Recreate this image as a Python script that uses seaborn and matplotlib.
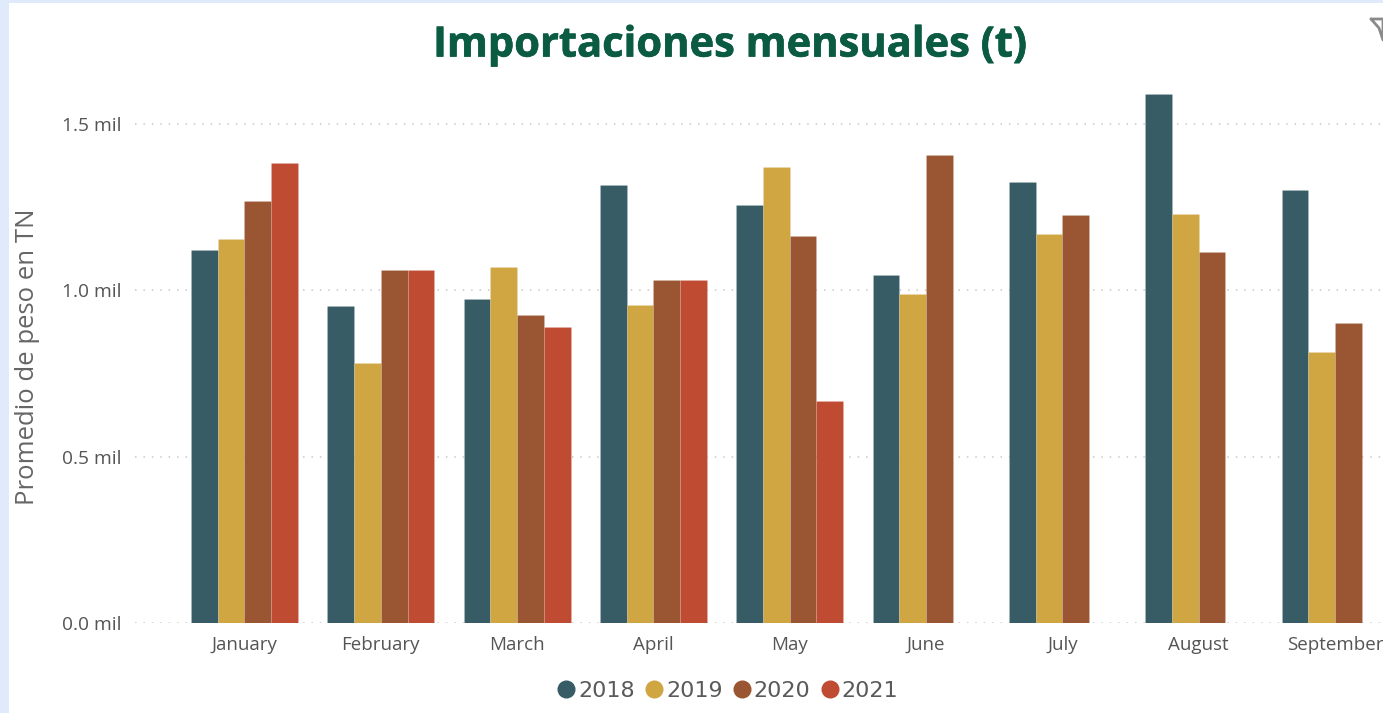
import numpy as np
import pandas as pd
import matplotlib
matplotlib.use("Agg")
import matplotlib.pyplot as plt
from matplotlib.lines import Line2D
from matplotlib.patches import Rectangle
import matplotlib.patheffects as pe
import seaborn as sns

months = ["January", "February", "March", "April", "May", "June", "July", "August", "September"]
v2018 = [1.121, 0.953, 0.974, 1.317, 1.256, 1.046, 1.326, 1.590, 1.302]
v2019 = [1.154, 0.782, 1.070, 0.956, 1.371, 0.989, 1.169, 1.229, 0.815]
v2020 = [1.268, 1.061, 0.926, 1.031, 1.163, 1.407, 1.226, 1.115, 0.902]
v2021 = [1.383, 1.061, 0.890, 1.031, 0.667, np.nan, np.nan, np.nan, np.nan]
years = ["2018", "2019", "2020", "2021"]
colors = ["#375C66", "#CFA642", "#9A5632", "#BF4B33"]
yticks = [0.0, 0.5, 1.0, 1.5]
ylabels = ["0.0 mil", "0.5 mil", "1.0 mil", "1.5 mil"]

df = pd.DataFrame({"month": months, "2018": v2018, "2019": v2019, "2020": v2020, "2021": v2021})
long = df.melt(id_vars="month", var_name="year", value_name="value")

W, H = 1383, 713
sns.set_theme(style="white")
plt.rcParams["font.family"] = ["Open Sans", "DejaVu Sans"]
fig = plt.figure(figsize=(W / 100, H / 100), dpi=100, facecolor="white")

# light-blue report background strips
fig.patches.append(Rectangle((0, 0), 9 / W, 1, transform=fig.transFigure, color="#DFEAFB", lw=0))
fig.patches.append(Rectangle((0, 1 - 3 / H), 1, 3 / H, transform=fig.transFigure, color="#DFEAFB", lw=0))

ax = fig.add_axes([135 / W, 1 - 623 / H, (W - 135) / W, (623 - 80) / H])
ax.patch.set_alpha(0)
sns.barplot(data=long, x="month", y="value", hue="year", hue_order=years, order=months,
            palette=colors, width=0.785, gap=0, saturation=1, ax=ax, legend=False,
            edgecolor="#FFFFFF30", linewidth=0.4, errorbar=None)

ax.set_xlim(-0.803, 8.352)
ax.set_ylim(0, (623 - 80) / 332.67)
ax.set_yticks(yticks)
ax.set_yticklabels(ylabels, fontsize=13.8, color="#555555")
ax.tick_params(axis="both", length=0)
ax.tick_params(axis="y", pad=10)
ax.tick_params(axis="x", pad=9)
for lab in ax.get_xticklabels():
    lab.set_fontsize(13.5)
    lab.set_color("#555555")
ax.set_xlabel("")
ax.set_ylabel("")
ax.yaxis.grid(True, color="#C8C8C8", linestyle=(0, (1, 4.5)), linewidth=1.1)
ax.set_axisbelow(True)
sns.despine(ax=ax, left=True, bottom=True, right=True, top=True)

fig.text(28 / W, 1 - 357 / H, "Promedio de peso en TN", rotation=90, ha="center", va="center",
         fontsize=18.5, color="#666666")

fig.text(730 / W, 1 - 46 / H, "Importaciones mensuales (t)", ha="center", va="center",
         fontsize=30, fontweight="bold", color="#0B5A42", family="Open Sans",
         path_effects=[pe.withStroke(linewidth=0.5, foreground="#0B5A42")])

handles = [Line2D([], [], linestyle="none", marker="o", markersize=13, color=c, markeredgewidth=0) for c in colors]
fig.legend(handles, years, loc="center", bbox_to_anchor=(725 / W, 1 - 691 / H), ncol=4, frameon=False,
           prop={"family": "DejaVu Sans", "size": 16}, labelcolor="#5A5A5A",
           handletextpad=-0.11, columnspacing=0.21, handlelength=1.3, borderpad=0)

# filter icon at the top right corner
fig.add_artist(Line2D(np.array([1371, 1383, 1383, 1379, 1371]) / W,
                      1 - np.array([19, 19, 40, 28, 19]) / H,
                      color="#8A8A8A", lw=2, transform=fig.transFigure, clip_on=False))

fig.savefig("out.png", dpi=100)
